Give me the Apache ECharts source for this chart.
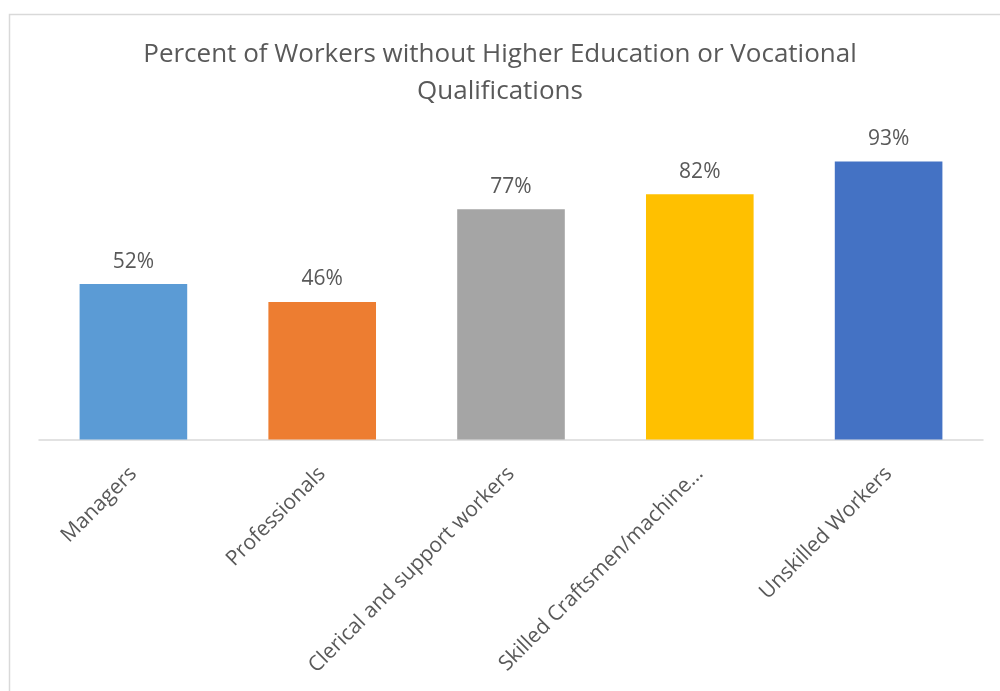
<!DOCTYPE html>
<html>
<head>
<meta charset="utf-8">
<script src="https://cdn.jsdelivr.net/npm/echarts@6/dist/echarts.min.js"></script>
<style>
  html, body { margin: 0; padding: 0; background: #fff; }
  #chart { width: 1000px; height: 691px; }
</style>
</head>
<body>
<div id="chart"></div>
<script>
const categories = [
  'Managers',
  'Professionals',
  'Clerical and support workers',
  'Skilled Craftsmen/machine…',
  'Unskilled Workers'
];
const percentWithoutQualifications = [52, 46, 77, 82, 93];
const barColors = ['#5B9BD5', '#ED7D31', '#A5A5A5', '#FFC000', '#4472C4'];

const chart = echarts.init(document.getElementById('chart'));
const font = '"Open Sans", sans-serif';

chart.setOption({
  animation: false,
  title: {
    text: 'Percent of Workers without Higher Education or Vocational\nQualifications',
    left: 'center',
    top: 31,
    textStyle: {
      fontFamily: font,
      fontWeight: 'normal',
      fontSize: 26,
      lineHeight: 37,
      color: '#595959'
    }
  },
  graphic: [{
    type: 'rect',
    shape: { x: 9.5, y: 14.5, width: 1000, height: 700 },
    style: { fill: 'none', stroke: '#D9D9D9', lineWidth: 1.5 },
    silent: true
  }],
  grid: { left: 39, right: 17, top: 140.5, bottom: 251.5 },
  xAxis: {
    type: 'category',
    data: categories,
    axisLine: { lineStyle: { color: '#D9D9D9', width: 1.5 } },
    axisTick: { show: false },
    axisLabel: {
      rotate: 45,
      interval: 0,
      margin: 31,
      fontFamily: font,
      fontSize: 21,
      color: '#595959'
    }
  },
  yAxis: {
    type: 'value',
    min: 0,
    max: 100,
    show: false,
    splitLine: { show: false }
  },
  series: [{
    type: 'bar',
    barWidth: '57%',
    data: percentWithoutQualifications.map((v, i) => ({
      value: v,
      itemStyle: { color: barColors[i] }
    })),
    label: {
      show: true,
      position: 'top',
      distance: 12,
      formatter: '{c}%',
      fontFamily: font,
      fontSize: 21,
      color: '#595959'
    }
  }]
});
</script>
</body>
</html>
